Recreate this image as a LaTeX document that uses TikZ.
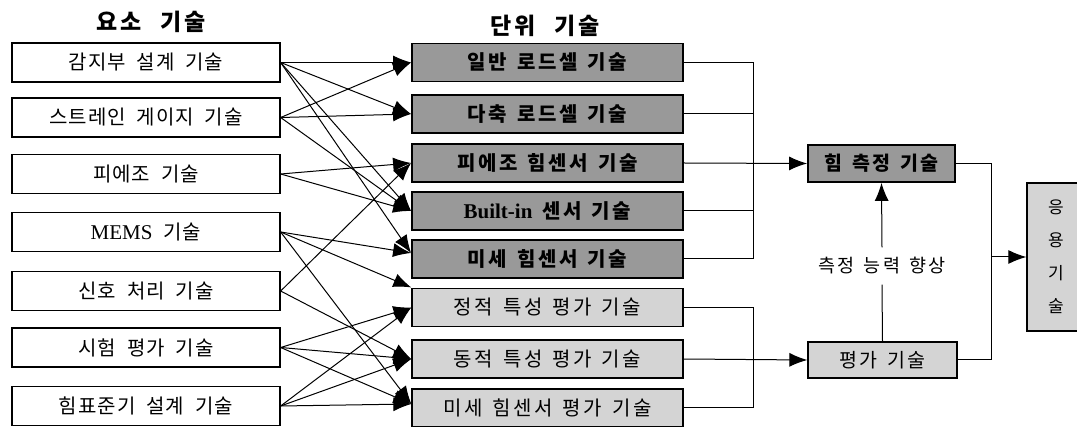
\documentclass[tikz,border=0pt]{standalone}
\usepackage{fontspec}
\setmainfont{Liberation Serif}
\newfontfamily\kr[LetterSpace=5,WordSpace=2]{Noto Sans CJK KR}
\newfontfamily\krm[LetterSpace=13,WordSpace=1.4]{Noto Sans CJK KR}
\newfontfamily\krt[LetterSpace=10,WordSpace=2.6]{Noto Sans CJK KR}
\newfontfamily\krv{Noto Sans CJK KR}
\usetikzlibrary{arrows.meta}
\definecolor{dk}{gray}{0.6}
\definecolor{lt}{gray}{0.83}
\newcommand{\latin}[1]{{\rmfamily\fontsize{21}{22}\selectfont #1}}
\begin{document}
\begin{tikzpicture}[x=1pt,y=-1pt,
  lbox/.style={draw, line width=1.3pt, fill=white, minimum width=268pt, minimum height=39pt, inner sep=0pt, font=\kr\fontsize{20}{22}\selectfont},
  mdark/.style={draw, line width=1.8pt, fill=dk, minimum width=271pt, minimum height=38pt, inner sep=0pt, font=\krm\bfseries\fontsize{20}{22}\selectfont},
  mlight/.style={draw, line width=1.3pt, fill=lt, minimum width=271pt, minimum height=38pt, inner sep=0pt, font=\krm\fontsize{20}{22}\selectfont},
  ttl/.style={font=\krt\bfseries\fontsize{23}{25}\selectfont, inner sep=0pt},
  conn/.style={line width=1pt, -{Latex[length=18pt,width=14pt]}},
  plain/.style={line width=1pt}]
\useasboundingbox (0,0) rectangle (1077,427);
\clip (0,0) rectangle (1077,427);

% titles
\node[ttl] (T1) at (151,22) {요소 기술};
\node[ttl] (T2) at (545,26) {단위 기술};

% left column
\node[lbox] (L1) at (146,62.5) {감지부 설계 기술};
\node[lbox] (L2) at (146,117.5) {스트레인 게이지 기술};
\node[lbox] (L3) at (146,174) {피에조 기술};
\node[lbox] (L4) at (146,232) {\latin{MEMS} 기술};
\node[lbox] (L5) at (146,291) {신호 처리 기술};
\node[lbox] (L6) at (146,347.5) {시험 평가 기술};
\node[lbox] (L7) at (146,406) {힘표준기 설계 기술};

% middle column
\node[mdark] (M1) at (547.5,62.5) {일반 로드셀 기술};
\node[mdark] (M2) at (547.5,114) {다축 로드셀 기술};
\node[mdark] (M3) at (547.5,163) {피에조 힘센서 기술};
\node[mdark] (M4) at (547.5,211) {\latin{\bfseries Built-in} 센서 기술};
\node[mdark] (M5) at (547.5,259) {미세 힘센서 기술};
\node[mlight] (M6) at (547.5,307.5) {정적 특성 평가 기술};
\node[mlight] (M7) at (547.5,359) {동적 특성 평가 기술};
\node[mlight] (M8) at (547.5,408) {미세 힘센서 평가 기술};

% right part
\node[draw, line width=1.8pt, fill=dk, minimum width=147pt, minimum height=37pt, inner sep=0pt, font=\krm\bfseries\fontsize{19.5}{21}\selectfont] (F) at (881.5,163.5) {힘 측정 기술};
\node[draw, line width=1.3pt, fill=lt, minimum width=149pt, minimum height=36pt, inner sep=0pt, font=\krm\fontsize{19.5}{21}\selectfont] (E) at (882.5,360) {평가 기술};
\node[draw, line width=1.3pt, fill=lt, minimum width=58pt, minimum height=148pt, inner sep=0pt, align=center, font=\krv\fontsize{17}{33}\selectfont] (A) at (1056,257) {응\\용\\기\\술};
\node[font=\krm\fontsize{18.5}{20}\selectfont, inner xsep=0pt, inner ysep=10pt] (lab) at (882,266) {측정 능력 향상};

\coordinate (busU) at (753,0);
\coordinate (busR) at (991,0);

% left to middle connectors
\draw[conn] (L1.east) -- (M1.west);
\draw[conn] (L1.east) -- (M2.west);
\draw[conn] (L1.east) -- (M4.west);
\draw[conn] (L1.east) -- ([yshift=6pt]M5.west);
\draw[conn] (L2.east) -- (M1.west);
\draw[conn] (L2.east) -- (M2.west);
\draw[conn] (L2.east) -- (M4.west);
\draw[conn] (L3.east) -- (M3.west);
\draw[conn] (L3.east) -- (M4.west);
\draw[conn] (L4.east) -- ([yshift=6pt]M5.west);
\draw[conn] (L4.east) -- ([yshift=20pt]M6.west);
\draw[conn] (L4.east) -- ([yshift=4pt]M8.west);
\draw[conn] (L5.east) -- (M3.west);
\draw[conn] (L5.east) -- (M7.west);
\draw[conn] (L6.east) -- (M6.west);
\draw[conn] (L6.east) -- (M7.west);
\draw[conn] (L6.east) -- ([yshift=4pt]M8.west);
\draw[conn] (L7.east) -- (M6.west);
\draw[conn] (L7.east) -- (M7.west);
\draw[conn] (L7.east) -- ([yshift=4pt]M8.west);

% buses
\draw[plain] (M1.east) -| (busU |- M5.east) -- (M5.east);
\draw[plain] (M2.east) -- (M2.east -| busU);
\draw[plain] (M4.east) -- (M4.east -| busU);
\draw[conn] (M3.east) -- (F.west);
\draw[plain] (M6.east) -| (busU |- M8.east) -- (M8.east);
\draw[conn] (M7.east) -- (E.west);

\draw[plain] (E.north) -- (lab.south);
\draw[conn] (lab.north) -- (F.south);
\draw[plain] (F.east) -| (busR |- E.east) -- (E.east);
\draw[conn] (busR |- A.west) -- (A.west);
\end{tikzpicture}
\end{document}
